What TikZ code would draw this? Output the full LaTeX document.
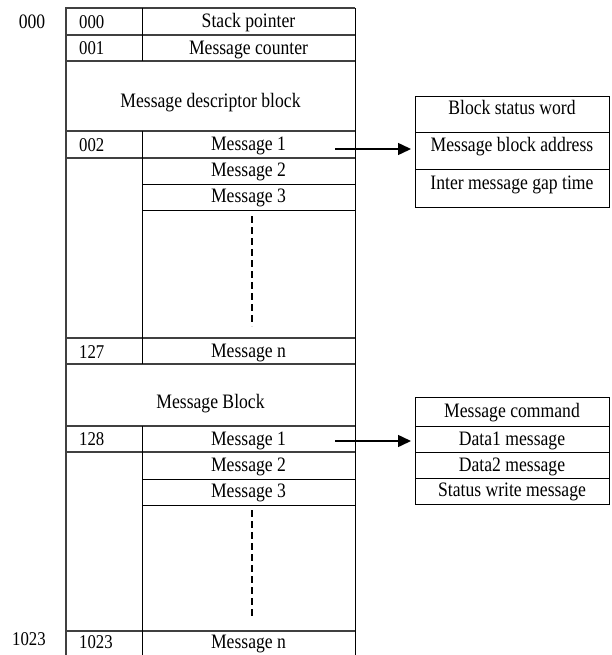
\documentclass[tikz,border=0pt]{standalone}
\usepackage{fontspec}
\setmainfont{Liberation Serif}[FakeStretch=0.86]
\usetikzlibrary{arrows.meta}
\begin{document}
\begin{tikzpicture}[x=1pt,y=-1pt,
  frame/.style={line width=1.4pt, draw=black!75},
  rule/.style={line width=0.8pt, draw=black},
  txt/.style={font=\fontsize{20.5}{24}\selectfont, inner sep=0pt, anchor=base},
  num/.style={font=\fontsize{19.5}{22}\selectfont, inner sep=0pt, anchor=base west},
  cell/.style={draw, line width=0.9pt, inner sep=0pt, outer sep=0pt,
    anchor=north west, minimum width=194pt},
  link/.style={line width=1.5pt, -{Triangle[length=13pt,width=12pt]}},
  gap/.style={line width=1.2pt, dash pattern=on 7pt off 4pt}]
\useasboundingbox (0,0) rectangle (611,655);

% ---- memory table: outer frame and full-width rules
\draw[frame] (66,655) -- (66,8) -- (355,8);
\draw[rule] (355,8) -- (355,655);
\foreach \y in {35,61,131,158,338,364,426,452,631}
  \draw[frame] (66,\y) -- (355,\y);
% column divider
\draw[rule] (142,8) -- (142,61);
\draw[rule] (142,131) -- (142,364);
\draw[rule] (142,426) -- (142,655);
% rules of the message column only
\foreach \y in {184,210,479,505}
  \draw[rule] (142,\y) -- (355,\y);
% elided rows
\draw[gap] (252,216) -- (252,326);
\draw[gap] (252,510) -- (252,619);

% ---- address markers outside the table
\node[txt, anchor=base] (a000) at (32,29) {000};
\node[txt, anchor=base west] (a1023) at (12,645) {\fontsize{19.5}{22}\selectfont 1023};

% ---- address column
\node[num] (n000) at (79,29) {000};
\node[num] (n001) at (79,55) {001};
\node[num] (n002) at (79,152) {002};
\node[num] (n127) at (79,358) {127};
\node[num] (n128) at (79,445) {128};
\node[num] (n1023) at (79,648) {1023};

% ---- contents column
\node[txt] (sp) at (248.5,28) {Stack pointer};
\node[txt] (mc) at (248.5,54.7) {Message counter};
\node[txt] (mdb) at (210.5,107.7) {Message descriptor block};
\node[txt] (d1) at (248.5,151) {Message 1};
\node[txt] (d2) at (248.5,176.7) {Message 2};
\node[txt] (d3) at (248.5,202) {Message 3};
\node[txt] (dn) at (248.5,357.7) {Message n};
\node[txt] (mb) at (210.5,408) {Message Block};
\node[txt] (m1) at (248.5,445) {Message 1};
\node[txt] (m2) at (248.5,471.7) {Message 2};
\node[txt] (m3) at (248.5,497.3) {Message 3};
\node[txt] (mn) at (248.5,648) {Message n};

% ---- descriptor entry
\node[cell, minimum height=36pt] (bsw) at (415,96) {};
\node[cell, minimum height=37pt] (mba) at (415,132) {};
\node[cell, minimum height=38pt] (imgt) at (415,169) {};
\node[txt] (tbsw) at (512,115) {Block status word};
\node[txt] (tmba) at (512,151.7) {Message block address};
\node[txt] (timgt) at (512,189.3) {Inter message gap time};

% ---- message block entry
\node[cell, minimum height=29pt] (cmd) at (415,397) {};
\node[cell, minimum height=26pt] (dt1) at (415,426) {};
\node[cell, minimum height=26pt] (dt2) at (415,452) {};
\node[cell, minimum height=26pt] (sw) at (415,478) {};
\node[txt] (tcmd) at (512,417.3) {Message command};
\node[txt] (tdt1) at (512,445) {Data1 message};
\node[txt] (tdt2) at (512,471) {Data2 message};
\node[txt] (tsw) at (512,496) {Status write message};

% ---- pointers
\coordinate (p1) at (335,149);
\coordinate (p2) at (335,441);
\draw[link, shorten >=4pt] (p1) -- (p1 -| mba.west);
\draw[link, shorten >=4pt] (p2) -- (p2 -| dt1.west);
\end{tikzpicture}
\end{document}
